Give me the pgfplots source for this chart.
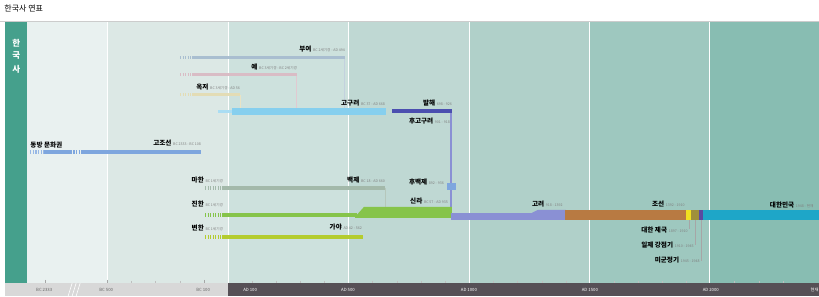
\documentclass[border=0pt]{standalone}
\usepackage{fontspec}
\setmainfont{Noto Sans CJK KR}
\usepackage{pgfplots}
\pgfplotsset{compat=1.18}
\definecolor{bandA}{HTML}{E9F1F0}
\definecolor{bandB}{HTML}{DCE8E5}
\definecolor{bandC}{HTML}{CDE1DD}
\definecolor{bandD}{HTML}{BFD8D3}
\definecolor{bandE}{HTML}{B0D0C9}
\definecolor{bandF}{HTML}{9EC8BF}
\definecolor{bandG}{HTML}{88BDB2}
\definecolor{teal}{HTML}{45A08C}
\definecolor{axdark}{HTML}{565056}
\definecolor{axlight}{HTML}{D8D8D8}
\definecolor{cbuyeo}{HTML}{A9BED0}
\definecolor{cye}{HTML}{D9BCC5}
\definecolor{cokjeo}{HTML}{E3DCB5}
\definecolor{cgogu}{HTML}{86CFEE}
\definecolor{cbal}{HTML}{4B4FB0}
\definecolor{cgojo}{HTML}{7EA6DE}
\definecolor{cmahan}{HTML}{A3B9AA}
\definecolor{cjin}{HTML}{86C44A}
\definecolor{cbyeon}{HTML}{B4CC2E}
\definecolor{cgoryeo}{HTML}{8A90D4}
\definecolor{cjoseon}{HTML}{B87A42}
\definecolor{cjeguk}{HTML}{F0E020}
\definecolor{cilje}{HTML}{A0903A}
\definecolor{cmigun}{HTML}{5A4AA0}
\definecolor{cdaehan}{HTML}{1EA6C8}
\definecolor{datec}{HTML}{808080}
\newcommand{\rect}[5]{\addplot[fill=#5,draw=none] coordinates {(#1,#2)(#3,#2)(#3,#4)(#1,#4)} --cycle;}
\newcommand{\nm}[2]{{\bfseries\fontsize{6.6}{6.6}\selectfont #1}\,{\fontsize{3.6}{3.6}\selectfont\color{datec}#2}}
\newcommand{\lab}[4]{\node[anchor=#1,inner sep=0pt] at (axis cs:#2,#3) {#4};}
\begin{document}
\begin{tikzpicture}
\begin{axis}[scale only axis, width=819pt, height=296pt, xmin=0, xmax=819, ymin=0, ymax=296, y dir=reverse, hide axis, clip=false]
% background
\rect{0}{0}{819}{296}{white}
\node[anchor=west,inner sep=0pt] at (axis cs:4,9) {\fontsize{8}{8}\selectfont 한국사 연표};
\addplot[draw=black!20, line width=0.5pt] coordinates {(0,21.5)(819,21.5)};
% bands
\rect{27}{22}{107}{283}{bandA}
\rect{107}{22}{228}{283}{bandB}
\rect{228}{22}{348}{283}{bandC}
\rect{348}{22}{469}{283}{bandD}
\rect{469}{22}{590}{283}{bandE}
\rect{590}{22}{710}{283}{bandF}
\rect{710}{22}{819}{283}{bandG}
\addplot[draw=white, line width=0.8pt] coordinates {(107,22)(107,283)};
\addplot[draw=white, line width=0.8pt] coordinates {(228,22)(228,283)};
\addplot[draw=white, line width=0.8pt] coordinates {(348,22)(348,283)};
\addplot[draw=white, line width=0.8pt] coordinates {(469,22)(469,283)};
\addplot[draw=white, line width=0.8pt] coordinates {(590,22)(590,283)};
\addplot[draw=white, line width=0.8pt] coordinates {(710,22)(710,283)};
% teal side band
\rect{5}{22}{27}{283}{teal}
\node[text=white,inner sep=0pt] at (axis cs:16,43) {\bfseries\fontsize{8.5}{8.5}\selectfont 한};
\node[text=white,inner sep=0pt] at (axis cs:16,56) {\bfseries\fontsize{8.5}{8.5}\selectfont 국};
\node[text=white,inner sep=0pt] at (axis cs:16,69) {\bfseries\fontsize{8.5}{8.5}\selectfont 사};
% axis bar
\rect{5}{283}{228}{296}{axlight}
\rect{228}{283}{819}{296}{axdark}
\addplot[draw=white, line width=0.6pt] coordinates {(68,296)(72,283)};
\addplot[draw=white, line width=0.6pt] coordinates {(72,296)(76,283)};
\addplot[draw=white, line width=0.6pt] coordinates {(76,296)(80,283)};
% minor ticks
\addplot[draw=black!35, line width=0.4pt] coordinates {(45,280)(45,283)};
\addplot[draw=black!35, line width=0.4pt] coordinates {(107,280)(107,283)};
\addplot[draw=black!25, line width=0.4pt] coordinates {(131,281)(131,283)};
\addplot[draw=black!25, line width=0.4pt] coordinates {(155,281)(155,283)};
\addplot[draw=black!25, line width=0.4pt] coordinates {(180,281)(180,283)};
\addplot[draw=black!35, line width=0.4pt] coordinates {(204,280)(204,283)};
\addplot[draw=black!25, line width=0.4pt] coordinates {(252,281)(252,283)};
\addplot[draw=black!25, line width=0.4pt] coordinates {(276,281)(276,283)};
\addplot[draw=black!25, line width=0.4pt] coordinates {(300,281)(300,283)};
\addplot[draw=black!25, line width=0.4pt] coordinates {(324,281)(324,283)};
\addplot[draw=black!25, line width=0.4pt] coordinates {(372,281)(372,283)};
\addplot[draw=black!25, line width=0.4pt] coordinates {(397,281)(397,283)};
\addplot[draw=black!25, line width=0.4pt] coordinates {(421,281)(421,283)};
\addplot[draw=black!25, line width=0.4pt] coordinates {(445,281)(445,283)};
\addplot[draw=black!25, line width=0.4pt] coordinates {(493,281)(493,283)};
\addplot[draw=black!25, line width=0.4pt] coordinates {(517,281)(517,283)};
\addplot[draw=black!25, line width=0.4pt] coordinates {(542,281)(542,283)};
\addplot[draw=black!25, line width=0.4pt] coordinates {(566,281)(566,283)};
\addplot[draw=black!25, line width=0.4pt] coordinates {(614,281)(614,283)};
\addplot[draw=black!25, line width=0.4pt] coordinates {(638,281)(638,283)};
\addplot[draw=black!25, line width=0.4pt] coordinates {(662,281)(662,283)};
\addplot[draw=black!25, line width=0.4pt] coordinates {(686,281)(686,283)};
\addplot[draw=black!25, line width=0.4pt] coordinates {(734,281)(734,283)};
\addplot[draw=black!25, line width=0.4pt] coordinates {(759,281)(759,283)};
\addplot[draw=black!25, line width=0.4pt] coordinates {(783,281)(783,283)};
% axis labels
\node[text=black!60,inner sep=0pt] at (axis cs:44,290) {\fontsize{4.3}{4.5}\selectfont BC 2333};
\node[text=black!60,inner sep=0pt] at (axis cs:106,290) {\fontsize{4.3}{4.5}\selectfont BC 500};
\node[text=black!60,inner sep=0pt] at (axis cs:203,290) {\fontsize{4.3}{4.5}\selectfont BC 100};
\node[text=white,inner sep=0pt] at (axis cs:250,290) {\fontsize{4.3}{4.5}\selectfont AD 100};
\node[text=white,inner sep=0pt] at (axis cs:348,290) {\fontsize{4.3}{4.5}\selectfont AD 500};
\node[text=white,inner sep=0pt] at (axis cs:469,290) {\fontsize{4.3}{4.5}\selectfont AD 1000};
\node[text=white,inner sep=0pt] at (axis cs:590,290) {\fontsize{4.3}{4.5}\selectfont AD 1500};
\node[text=white,inner sep=0pt] at (axis cs:711,290) {\fontsize{4.3}{4.5}\selectfont AD 2000};
\node[text=white,inner sep=0pt,anchor=east] at (axis cs:819,290) {\fontsize{4.3}{4.5}\selectfont 현재};
% connector lines
\addplot[draw=cbuyeo!70, line width=0.6pt] coordinates {(344,58)(344,108)};
\addplot[draw=cye!80, line width=0.6pt] coordinates {(296,75)(296,108)};
\addplot[draw=cokjeo!80, line width=0.6pt] coordinates {(240,95)(240,108)};
\addplot[draw=cmahan!80, line width=0.6pt] coordinates {(385,188)(385,207)};
\addplot[draw=cgojo, line width=0.6pt] coordinates {(450,190)(450,208)};
\addplot[draw=cgoryeo, line width=1.5pt] coordinates {(451,111)(451,214)};
% 부여
\addplot[draw=cbuyeo, line width=3pt, dash pattern=on 1.2pt off 1.3pt] coordinates {(180,58)(192,58)};
\addplot[draw=cbuyeo, line width=3pt] coordinates {(192,58)(345,58)};
\lab{east}{345}{49}{\nm{부여}{BC 2세기경 - AD 494}}
% 예
\addplot[draw=cye, line width=3pt, dash pattern=on 1.2pt off 1.3pt] coordinates {(180,75)(192,75)};
\addplot[draw=cye, line width=3pt] coordinates {(192,75)(297,75)};
\lab{east}{297}{67}{\nm{예}{BC 3세기경 - BC 2세기경}}
% 옥저
\addplot[draw=cokjeo, line width=3pt, dash pattern=on 1.2pt off 1.3pt] coordinates {(180,95)(192,95)};
\addplot[draw=cokjeo, line width=3pt] coordinates {(192,95)(240,95)};
\lab{east}{240}{87}{\nm{옥저}{BC 3세기경 - AD 56}}
% 고구려
\addplot[draw=cgogu!70, line width=3pt] coordinates {(218,112)(233,112)};
\addplot[draw=cgogu, line width=7pt] coordinates {(232,111.5)(386,111.5)};
\lab{east}{385}{103}{\nm{고구려}{BC 37 - AD 668}}
% 발해
\addplot[draw=cbal, line width=4pt] coordinates {(392,111)(452,111)};
\lab{east}{452}{103}{\nm{발해}{698 - 926}}
\lab{east}{450}{121}{\nm{후고구려}{901 - 918}}
% 고조선
\addplot[draw=cgojo!80, line width=4pt, dash pattern=on 1.2pt off 1.4pt] coordinates {(30,152)(44,152)};
\addplot[draw=cgojo, line width=4pt] coordinates {(44,152)(70,152)};
\addplot[draw=cgojo, line width=4pt, dash pattern=on 1.6pt off 1.2pt] coordinates {(70,152)(82,152)};
\addplot[draw=cgojo, line width=4pt] coordinates {(82,152)(201,152)};
\lab{west}{30}{145}{\nm{동방 문화권}{}}
\lab{east}{201}{143}{\nm{고조선}{BC 2333 - BC 108}}
% 마한 / 백제
\addplot[draw=cmahan, line width=3.5pt, dash pattern=on 1.2pt off 1.3pt] coordinates {(205,188)(222,188)};
\addplot[draw=cmahan, line width=3.5pt] coordinates {(222,188)(385,188)};
\lab{east}{223}{180}{\nm{마한}{BC 1세기경}}
\lab{east}{385}{180}{\nm{백제}{BC 18 - AD 660}}
% 후백제
\rect{447}{183}{456}{190}{cgojo}
\lab{east}{444}{182}{\nm{후백제}{892 - 936}}
% 진한 / 신라
\addplot[draw=cjin, line width=4pt, dash pattern=on 1.2pt off 1.3pt] coordinates {(205,215)(222,215)};
\addplot[draw=cjin, line width=4pt] coordinates {(222,215)(357,215)};
\addplot[fill=cjin,draw=none] coordinates {(355,217)(364,207)(452,207)(452,218)(355,218)} --cycle;
\lab{east}{223}{204}{\nm{진한}{BC 1세기경}}
\lab{east}{448}{201}{\nm{신라}{BC 57 - AD 935}}
% 변한 / 가야
\addplot[draw=cbyeon, line width=4.5pt, dash pattern=on 1.2pt off 1.3pt] coordinates {(205,237)(222,237)};
\addplot[draw=cbyeon, line width=4.5pt] coordinates {(222,237)(363,237)};
\lab{east}{223}{228}{\nm{변한}{BC 1세기경}}
\lab{east}{362}{227}{\nm{가야}{AD 42 - 562}}
% 고려
\rect{451}{213}{538}{220}{cgoryeo}
\addplot[fill=cgoryeo,draw=none] coordinates {(532,213)(538,210)(566,210)(566,220)(532,220)} --cycle;
\lab{east}{563}{204}{\nm{고려}{918 - 1392}}
% 조선 and later
\rect{565}{210}{686}{220}{cjoseon}
\rect{686}{210}{691}{220}{cjeguk}
\rect{691}{210}{699}{220}{cilje}
\rect{699}{210}{703}{220}{cmigun}
\rect{703}{210.5}{819}{220}{cdaehan}
\lab{east}{685}{204}{\nm{조선}{1392 - 1910}}
\lab{west}{770}{205}{\nm{대한민국}{1948 - 현재}}
\addplot[draw=black!35, line width=0.4pt] coordinates {(689,220)(689,229)};
\addplot[draw=black!35, line width=0.4pt] coordinates {(695,220)(695,245)};
\addplot[draw=black!35, line width=0.4pt] coordinates {(701,220)(701,261)};
\lab{east}{688}{230}{\nm{대한 제국}{1897 - 1910}}
\lab{east}{694}{245}{\nm{일제 강점기}{1910 - 1945}}
\lab{east}{700}{260}{\nm{미군정기}{1945 - 1948}}
\end{axis}
\end{tikzpicture}
\end{document}
